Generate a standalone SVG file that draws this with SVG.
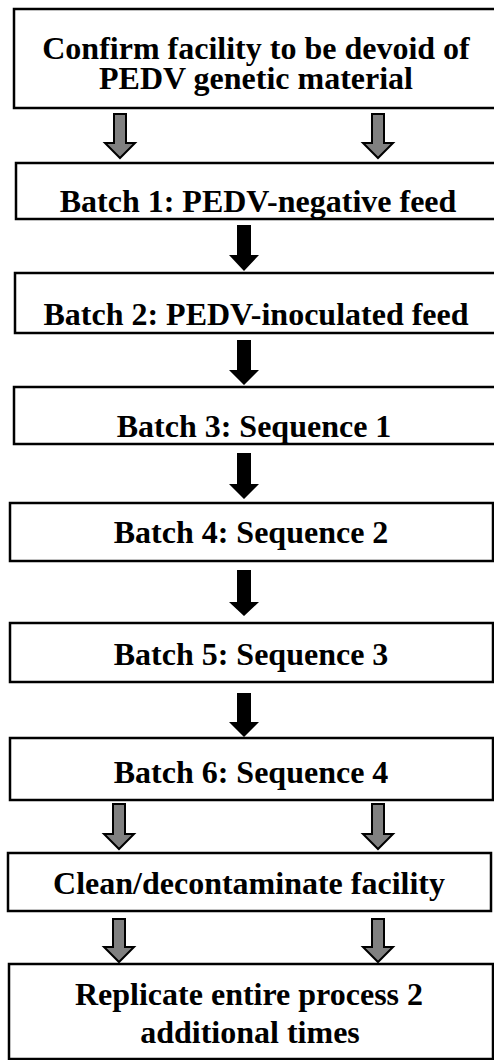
<svg xmlns="http://www.w3.org/2000/svg" width="494" height="1060" viewBox="0 0 494 1060">
<style>
.box{fill:#fff;stroke:#000;stroke-width:2.5}
.t{font-family:"Liberation Serif","Times New Roman",serif;font-weight:bold;font-size:32px;fill:#000;text-anchor:middle}
.ga{fill:#808080;stroke:#000;stroke-width:2;stroke-linejoin:miter}
.ba{fill:#000}
</style>
<rect width="494" height="1060" fill="#fff"/>
<g id="connectors">
<path class="ga" d="M114,114 H126 V143 H135 L120,158 L105,143 H114 Z"/>
<path class="ga" d="M372,114 H384 V143 H393 L378,158 L363,143 H372 Z"/>
<path class="ba" d="M237,225 H251 V255 H259 L244,271 L229,255 H237 Z"/>
<path class="ba" d="M237,340 H251 V370 H259 L244,385 L229,370 H237 Z"/>
<path class="ba" d="M237,453 H251 V484 H259 L244,499 L229,484 H237 Z"/>
<path class="ba" d="M237,570 H251 V602 H259 L244,616 L229,602 H237 Z"/>
<path class="ba" d="M237,693 H251 V722 H259 L244,737 L229,722 H237 Z"/>
<path class="ga" d="M113,804 H125 V834 H134 L119,849 L104,834 H113 Z"/>
<path class="ga" d="M372,804 H384 V834 H393 L378,849 L363,834 H372 Z"/>
<path class="ga" d="M113,919 H125 V947 H134 L119,962 L104,947 H113 Z"/>
<path class="ga" d="M372,919 H384 V947 H393 L378,962 L363,947 H372 Z"/>
</g>
<g id="n0"><rect class="box" x="14" y="9" width="484" height="99"/>
<text class="t" x="256" y="59">Confirm facility to be devoid of</text>
<text class="t" x="256" y="89">PEDV genetic material</text></g>
<g id="n1"><rect class="box" x="16" y="163" width="482" height="56"/>
<text class="t" x="258" y="212">Batch 1: PEDV-negative feed</text></g>
<g id="n2"><rect class="box" x="15" y="273" width="483" height="60"/>
<text class="t" x="256" y="325">Batch 2: PEDV-inoculated feed</text></g>
<g id="n3"><rect class="box" x="14" y="387" width="484" height="57"/>
<text class="t" x="254" y="437">Batch 3: Sequence 1</text></g>
<g id="n4"><rect class="box" x="10" y="503" width="483" height="58"/>
<text class="t" x="251" y="543">Batch 4: Sequence 2</text></g>
<g id="n5"><rect class="box" x="10" y="623" width="483" height="59"/>
<text class="t" x="251" y="665">Batch 5: Sequence 3</text></g>
<g id="n6"><rect class="box" x="10" y="738" width="483" height="62"/>
<text class="t" x="251" y="783">Batch 6: Sequence 4</text></g>
<g id="n7"><rect class="box" x="8" y="853" width="483" height="58"/>
<text class="t" x="249" y="894">Clean/decontaminate facility</text></g>
<g id="n8"><rect class="box" x="9" y="964" width="484" height="95"/>
<text class="t" x="249" y="1005">Replicate entire process 2</text>
<text class="t" x="250" y="1043">additional times</text></g>
</svg>
